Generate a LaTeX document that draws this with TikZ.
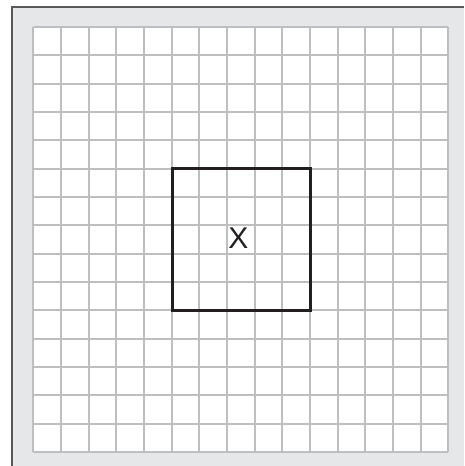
\documentclass[tikz,border=0pt]{standalone}
\usepackage{fontspec}
\setmainfont{Liberation Sans}
\usepackage{xcolor}
\usepackage{tikz}
\usetikzlibrary{positioning}

\definecolor{framegray}{HTML}{58595B}
\definecolor{panelgray}{HTML}{E6E7E8}
\definecolor{gridgray}{HTML}{BCBEC0}
\definecolor{inkblack}{HTML}{231F20}

\begin{document}
\begin{tikzpicture}[
    x=1pt, y=-1pt,
    gridline/.style={draw=gridgray, line width=2pt},
    frameline/.style={draw=framegray, line width=2.4pt},
    targetbox/.style={draw=inkblack, line width=3pt, minimum width=138.3pt, minimum height=141.7pt, inner sep=0pt},
    letter/.style={text=inkblack, font=\fontsize{30}{36}\selectfont, inner sep=0pt}
]
    \useasboundingbox (0,0) rectangle (464,466);

    % Panel behind the grid
    \fill[panelgray] (12.2,7) rectangle (464,466);
    \draw[frameline] (12.2,466) -- (12.2,7) -- (464,7);

    % White grid area, 15 x 15 cells
    \fill[white] (33.3,27) rectangle (448.3,452);
    \foreach \i in {0,...,15} {
        \draw[gridline] ({33.3+\i*27.667},27) -- ({33.3+\i*27.667},452);
        \draw[gridline] (33.3,{27+\i*28.333}) -- (448.3,{27+\i*28.333});
    }

    % Marked block of 5 x 5 cells
    \node[targetbox] (block) at (241.6,239.7) {};
    \node[letter] (xlabel) at (238.3,238.2) {X};
\end{tikzpicture}
\end{document}
